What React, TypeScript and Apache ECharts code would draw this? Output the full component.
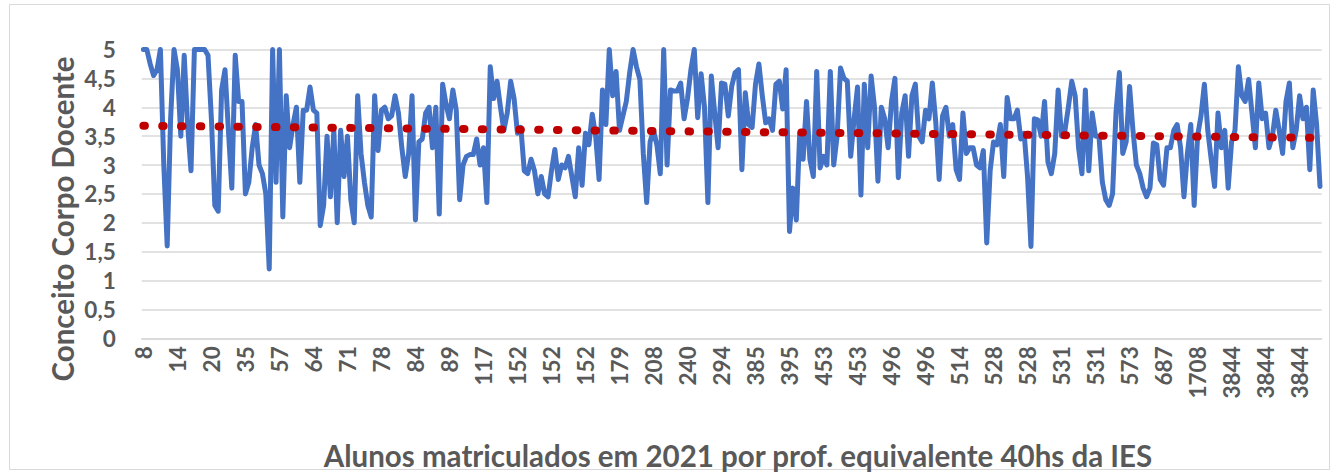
import { useEffect, useRef } from 'react';
import * as echarts from 'echarts';

// X tick labels (every 10th category)
const tickLabels = ['8', '14', '20', '35', '57', '64', '71', '78', '84', '89', '117', '152', '152', '152', '179', '208', '240', '294', '385', '395', '453', '453', '496', '496', '514', '528', '528', '531', '531', '573', '687', '1708', '3844', '3844', '3844'];

// Conceito Corpo Docente values, in four consecutive parts
const valuesA = [
  5, 5, 4.75, 4.55, 4.65, 5, 3.0, 1.6, 3.8, 5,
  4.65, 3.5, 4.9, 3.7, 2.9, 5, 5, 5, 5, 4.9,
  3.8, 2.3, 2.2, 4.3, 4.65, 3.6, 2.6, 4.9, 4.1, 4.1,
  2.5, 2.7, 3.3, 3.7, 3.0, 2.85, 2.5, 1.2, 5, 2.7,
  5, 2.1, 4.2, 3.3, 3.7, 4.0, 2.7, 3.95, 3.95, 4.35,
  3.95, 3.9, 1.95, 2.3, 3.5, 2.45, 3.6, 2.0, 3.6, 2.8,
  3.5, 2.4, 2.0, 4.2, 3.2, 2.7, 2.3, 2.1, 4.2, 3.25,
  3.95, 4.0, 3.8, 3.85, 4.2, 3.9, 3.3, 2.8,
  3.2, 4.2, 2.05, 3.4, 3.45, 3.9, 4.0, 3.3, 4.0,
];
const valuesB = [
  2.15, 4.4, 4.05, 3.8, 4.3, 3.95, 2.4, 3.0, 3.15, 3.18,
  3.18, 3.45, 3.0, 3.3, 2.35, 4.7, 4.15, 4.45, 4.0, 3.6,
  3.9, 4.45, 4.15, 3.55, 3.65, 2.9, 2.85, 3.1, 2.9, 2.5,
  2.8, 2.5, 2.45, 2.9, 3.27, 2.75, 3.0, 2.95, 3.15, 2.8,
  2.45, 3.3, 2.65, 3.55, 3.35, 3.88, 3.5, 2.75, 4.3, 3.7,
  5, 4.2, 4.62, 3.6, 3.85, 4.1, 4.6, 5, 4.7, 4.48,
  3.2, 2.35, 3.4, 3.6, 3.35, 2.85, 5, 3.0, 4.3, 4.28,
  4.28, 4.42, 3.8, 4.15, 4.65, 5, 3.82, 4.58, 4.0, 2.35,
  4.54, 3.9, 3.3, 4.42, 4.4, 3.85, 4.36,
];
const valuesC = [
  4.6, 4.65, 2.92, 4.25, 3.7, 3.65, 4.4, 4.75, 4.2, 3.73,
  3.8, 3.6, 4.4, 4.45, 3.97, 4.65, 1.85, 2.6, 2.05, 3.55,
  3.1, 4.1, 3.1, 2.8, 4.62, 2.95, 3.15, 3.0, 4.62, 3.0,
  3.5, 4.68, 4.5, 4.45, 3.15, 3.8, 4.35, 2.48, 4.4, 3.3,
  4.54, 4.0, 2.72, 4.0, 3.8, 3.3, 4.1, 4.5, 2.78, 3.9,
  4.2, 3.15, 4.2, 4.4, 3.5, 3.4, 3.95, 3.8, 4.42, 3.75,
  2.75, 3.85, 4.0, 3.5, 3.7, 2.92, 2.75, 3.9, 3.2, 3.3,
  3.3, 3.0, 2.95, 3.25, 1.65, 2.9, 3.4, 3.35, 3.7, 2.8,
  4.17, 3.8, 3.8, 3.95, 3.45, 3.55, 2.8,
];
const valuesD = [
  1.59, 3.8, 3.78, 3.5, 4.1, 3.05, 2.85, 3.2, 4.3, 3.5,
  3.6, 4.0, 4.45, 4.2, 3.3, 2.85, 4.3, 2.9, 3.9, 3.5,
  3.5, 2.7, 2.4, 2.3, 2.5, 3.9, 4.6, 3.2, 3.4, 4.36,
  3.6, 3.0, 2.85, 2.6, 2.45, 2.6, 3.38, 3.35, 2.75, 2.65,
  3.3, 3.3, 3.6, 3.7, 3.3, 2.45, 3.2, 3.7, 2.3, 3.5,
  3.85, 4.4, 3.6, 3.1, 2.63, 3.9, 3.3, 3.6, 2.6, 3.4,
  3.6, 4.7, 4.2, 4.1, 4.48, 3.9, 3.3, 4.42, 3.8, 3.9,
  3.3, 3.5, 3.95, 3.6, 3.2, 4.1, 4.42, 3.3, 3.6, 4.2,
  3.8, 4.0, 2.92, 4.3, 3.7, 2.63,
];

// Linear trend line: value at first and last category
const trendEnds = [3.68, 3.47];

const yTitle = 'Conceito Corpo Docente';
const xTitle = 'Alunos matriculados em 2021 por prof. equivalente 40hs da IES';

export default function App() {
  const ref = useRef<HTMLDivElement>(null);
  useEffect(() => {
    document.body.style.margin = '0';
    const chart = echarts.init(ref.current!, null, { renderer: 'svg' });
    const values = [...valuesA, ...valuesB, ...valuesC, ...valuesD];
    const n = values.length;
    const categories = values.map((_, i) => String(i));
    const trend = values.map((_, i) => (i === 0 ? trendEnds[0] : i === n - 1 ? trendEnds[1] : null));
    const font = 'Lato, "Open Sans", sans-serif';
    chart.setOption({
      animation: false,
      backgroundColor: '#ffffff',
      grid: { left: 141.7, right: 13.3, top: 49.5, bottom: 133.7, containLabel: false },
      xAxis: {
        type: 'category',
        data: categories,
        boundaryGap: true,
        axisTick: { show: false },
        axisLine: { lineStyle: { color: '#D9D9D9', width: 1.5 } },
        splitLine: { show: false },
        axisLabel: {
          interval: 9,
          rotate: 90,
          margin: 8,
          fontFamily: font,
          fontWeight: 'bold',
          fontSize: 22.5,
          color: '#595959',
          formatter: (_v: string, idx: number) => tickLabels[idx / 10] ?? '',
        },
      },
      yAxis: {
        type: 'value',
        min: 0,
        max: 5,
        interval: 0.5,
        axisLine: { show: false },
        axisTick: { show: false },
        splitLine: { lineStyle: { color: '#D9D9D9', width: 1.5 } },
        axisLabel: {
          margin: 26,
          fontFamily: font,
          fontWeight: 'bold',
          fontSize: 22.5,
          color: '#595959',
          formatter: (v: number) => String(v).replace('.', ','),
        },
      },
      series: [
        {
          type: 'line',
          data: values,
          symbol: 'none',
          z: 2,
          lineStyle: { color: '#4472C4', width: 5, join: 'round', cap: 'round' },
        },
        {
          type: 'line',
          data: trend,
          connectNulls: true,
          symbol: 'none',
          z: 3,
          lineStyle: { color: '#C00000', width: 8, type: [1.5, 17.3], cap: 'round' },
        },
      ],
      graphic: [
        {
          type: 'rect',
          shape: { x: 9.5, y: 4.5, width: 1320, height: 465 },
          style: { fill: 'none', stroke: '#D9D9D9', lineWidth: 1 },
          silent: true,
          z: -10,
        },
        {
          type: 'text',
          x: 62,
          y: 219,
          rotation: Math.PI / 2,
          style: {
            text: yTitle,
            align: 'center',
            verticalAlign: 'middle',
            font: `bold 29.5px ${font}`,
            fill: '#595959',
          },
        },
        {
          type: 'text',
          x: 738,
          y: 455,
          style: {
            text: xTitle,
            align: 'center',
            verticalAlign: 'middle',
            font: `bold 29.5px ${font}`,
            fill: '#595959',
          },
        },
      ],
    });
    return () => chart.dispose();
  }, []);
  return <div ref={ref} style={{ width: 1335, height: 472 }} />;
}
